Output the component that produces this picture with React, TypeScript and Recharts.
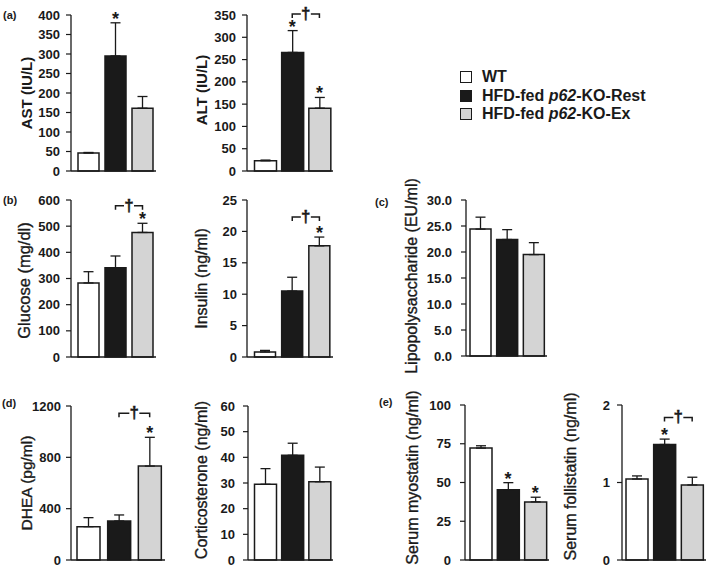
import React from 'react';
import { BarChart, Bar, XAxis, YAxis, Cell, ErrorBar, ReferenceDot, ReferenceLine } from 'recharts';

const groups = ['WT', 'HFD-fed p62-KO-Rest', 'HFD-fed p62-KO-Ex'];
const groupFills = ['#ffffff', '#1a1a1a', '#d4d4d4'];

// (a) liver enzymes
const astMean = [46, 295, 161];
const astSem = [1.5, 85, 30];
const astTicks = [0, 50, 100, 150, 200, 250, 300, 350, 400];
const astStars = [false, true, false];

const altMean = [23, 266, 141];
const altSem = [1.5, 49, 24];
const altTicks = [0, 50, 100, 150, 200, 250, 300, 350];
const altStars = [false, true, true];
const altDagger = 352;

// (b) glucose / insulin
const glucoseMean = [283, 341, 476];
const glucoseSem = [43, 45, 35];
const glucoseTicks = [0, 100, 200, 300, 400, 500, 600];
const glucoseStars = [false, false, true];
const glucoseDagger = 578;

const insulinMean = [0.8, 10.5, 17.7];
const insulinSem = [0.25, 2.2, 1.4];
const insulinTicks = [0, 5, 10, 15, 20, 25];
const insulinStars = [false, false, true];
const insulinDagger = 22.3;

// (c) LPS
const lpsMean = [24.4, 22.4, 19.5];
const lpsSem = [2.3, 1.9, 2.3];
const lpsTicks = [0, 5, 10, 15, 20, 25, 30];
const lpsStars = [false, false, false];

// (d) DHEA / corticosterone
const dheaMean = [260, 304, 732];
const dheaSem = [70, 47, 224];
const dheaTicks = [0, 400, 800, 1200];
const dheaStars = [false, false, true];
const dheaDagger = 1143;

const corticoMean = [29.5, 40.8, 30.5];
const corticoSem = [6.1, 4.7, 5.7];
const corticoTicks = [0, 10, 20, 30, 40, 50, 60];
const corticoStars = [false, false, false];

// (e) myostatin / follistatin
const myostatinMean = [72.2, 45.4, 37.5];
const myostatinSem = [1.5, 4.5, 3];
const myostatinTicks = [0, 25, 50, 75, 100];
const myostatinStars = [false, true, true];

const follistatinMean = [1.045, 1.49, 0.968];
const follistatinSem = [0.04, 0.07, 0.1];
const follistatinTicks = [0, 1, 2];
const follistatinStars = [false, true, false];
const follistatinDagger = 1.84;

const INK = '#1a1a1a';
const FONT = "'Liberation Sans', Arial, sans-serif";
const YW = 72;
const MT = 24;
const XH = 10;
const MB = 20;
const MR = 3;

type PanelSpec = {
  mean: number[];
  sem: number[];
  ticks: number[];
  stars: boolean[];
  dagger?: number;
  decimals?: number;
  title: string;
  titleBold?: boolean;
  titleSize: number;
  titleX: number;
  titleDy: number;
  axisX: number;
  plotTop: number;
  plotBottom: number;
  plotRight: number;
  padLeft: number;
  barSize: number;
  tickGap: number;
};

const starShape = (p: any) => (
  <text x={p.cx} y={p.cy + 2} textAnchor="middle" fontSize={18} fontWeight="bold" fill={INK} fontFamily={FONT}>
    *
  </text>
);

const bracketShape = (p: any) => {
  const { x1, x2, y1 } = p;
  const mid = (x1 + x2) / 2;
  return (
    <g>
      <path
        d={`M${x1},${y1 + 4}V${y1}H${mid - 5}M${mid + 5},${y1}H${x2}V${y1 + 4}`}
        stroke={INK}
        strokeWidth={1.5}
        fill="none"
      />
      <text
        x={mid}
        y={y1 + 5}
        textAnchor="middle"
        fontSize={17}
        fontWeight="bold"
        fill={INK}
        stroke={INK}
        strokeWidth={0.4}
        fontFamily={FONT}
      >
        †
      </text>
    </g>
  );
};

function Panel({ s }: { s: PanelSpec }) {
  const data = groups.map((g, i) => ({ name: g, mean: s.mean[i], err: [0, s.sem[i]] }));
  const plotH = s.plotBottom - s.plotTop;
  const width = YW + (s.plotRight - s.axisX) + MR;
  const height = MT + plotH + XH + MB;
  const max = s.ticks[s.ticks.length - 1];
  const tx = YW - (s.axisX - s.titleX);
  const ty = MT + plotH / 2 + s.titleDy;

  return (
    <div style={{ position: 'absolute', left: s.axisX - YW, top: s.plotTop - MT }}>
      <BarChart width={width} height={height} data={data} margin={{ top: MT, right: MR, bottom: MB, left: 0 }}>
        <XAxis
          dataKey="name"
          tick={false}
          tickLine={false}
          height={XH}
          padding={{ left: s.padLeft, right: 0 }}
          axisLine={{ stroke: INK, strokeWidth: 1.3 }}
        />
        <YAxis
          width={YW}
          type="number"
          domain={[0, max]}
          ticks={s.ticks}
          interval={0}
          tickSize={5}
          tickMargin={s.tickGap - 5}
          axisLine={{ stroke: INK, strokeWidth: 1.3 }}
          tickLine={{ stroke: INK, strokeWidth: 1.2 }}
          tickFormatter={(v: number) => (s.decimals ? v.toFixed(s.decimals) : String(v))}
          tick={{ fontSize: 13, fontWeight: 'bold', fill: INK, fontFamily: FONT }}
          label={{
            content: () => (
              <text
                x={tx}
                y={ty}
                transform={`rotate(-90 ${tx} ${ty})`}
                textAnchor="middle"
                dominantBaseline="central"
                fontSize={s.titleSize}
                fontWeight={s.titleBold ? 'bold' : 'normal'}
                fill={INK}
                stroke={s.titleBold ? 'none' : INK}
                strokeWidth={0.35}
                fontFamily={FONT}
              >
                {s.title}
              </text>
            ),
          }}
        />
        <Bar dataKey="mean" barSize={s.barSize} stroke={INK} strokeWidth={1.5} isAnimationActive={false}>
          {data.map((d, i) => (
            <Cell key={d.name} fill={groupFills[i]} />
          ))}
          <ErrorBar dataKey="err" width={5} stroke={INK} strokeWidth={1.3} direction="y" isAnimationActive={false} />
        </Bar>
        {s.stars.map((on, i) =>
          on ? (
            <ReferenceDot
              key={`star-${i}`}
              x={groups[i]}
              y={s.mean[i] + s.sem[i]}
              r={0}
              ifOverflow="visible"
              shape={starShape}
            />
          ) : null,
        )}
        {s.dagger !== undefined && (
          <ReferenceLine
            segment={[
              { x: groups[1], y: s.dagger },
              { x: groups[2], y: s.dagger },
            ]}
            ifOverflow="visible"
            shape={bracketShape}
          />
        )}
      </BarChart>
    </div>
  );
}

const panels: PanelSpec[] = [
  {
    mean: astMean, sem: astSem, ticks: astTicks, stars: astStars,
    title: 'AST (IU/L)', titleBold: true, titleSize: 15, titleX: 26, titleDy: 0,
    axisX: 71, plotTop: 15, plotBottom: 171, plotRight: 156, padLeft: 4, barSize: 21, tickGap: 11,
  },
  {
    mean: altMean, sem: altSem, ticks: altTicks, stars: altStars, dagger: altDagger,
    title: 'ALT (IU/L)', titleBold: true, titleSize: 15, titleX: 201, titleDy: -3,
    axisX: 247, plotTop: 15, plotBottom: 171, plotRight: 333, padLeft: 4.5, barSize: 22, tickGap: 11,
  },
  {
    mean: glucoseMean, sem: glucoseSem, ticks: glucoseTicks, stars: glucoseStars, dagger: glucoseDagger,
    title: 'Glucose (mg/dl)', titleSize: 16.5, titleX: 24, titleDy: 2,
    axisX: 71, plotTop: 200, plotBottom: 357, plotRight: 156, padLeft: 4, barSize: 21, tickGap: 11,
  },
  {
    mean: insulinMean, sem: insulinSem, ticks: insulinTicks, stars: insulinStars, dagger: insulinDagger,
    title: 'Insulin (ng/ml)', titleSize: 16, titleX: 201, titleDy: 0,
    axisX: 247, plotTop: 200, plotBottom: 357, plotRight: 333, padLeft: 4.5, barSize: 21, tickGap: 10,
  },
  {
    mean: lpsMean, sem: lpsSem, ticks: lpsTicks, stars: lpsStars, decimals: 1,
    title: 'Lipopolysaccharide (EU/ml)', titleSize: 16, titleX: 411, titleDy: -2,
    axisX: 466, plotTop: 200, plotBottom: 356, plotRight: 547, padLeft: 1, barSize: 21, tickGap: 14,
  },
  {
    mean: dheaMean, sem: dheaSem, ticks: dheaTicks, stars: dheaStars, dagger: dheaDagger,
    title: 'DHEA (pg/ml)', titleSize: 15.5, titleX: 26, titleDy: 0,
    axisX: 71, plotTop: 406, plotBottom: 560, plotRight: 165, padLeft: 2, barSize: 23, tickGap: 10,
  },
  {
    mean: corticoMean, sem: corticoSem, ticks: corticoTicks, stars: corticoStars,
    title: 'Corticosterone (ng/ml)', titleSize: 16, titleX: 201, titleDy: -3,
    axisX: 248, plotTop: 406, plotBottom: 560, plotRight: 333, padLeft: 3.5, barSize: 22, tickGap: 13,
  },
  {
    mean: myostatinMean, sem: myostatinSem, ticks: myostatinTicks, stars: myostatinStars,
    title: 'Serum myostatin (ng/ml)', titleSize: 16, titleX: 412, titleDy: -5,
    axisX: 465, plotTop: 405, plotBottom: 560, plotRight: 549, padLeft: 2, barSize: 22, tickGap: 14,
  },
  {
    mean: follistatinMean, sem: follistatinSem, ticks: follistatinTicks, stars: follistatinStars, dagger: follistatinDagger,
    title: 'Serum follistatin (ng/ml)', titleSize: 16, titleX: 570, titleDy: -6,
    axisX: 622, plotTop: 405, plotBottom: 560, plotRight: 706, padLeft: 1, barSize: 22, tickGap: 12,
  },
];

const panelLetters = [
  { t: '(a)', x: 3, y: 15 },
  { t: '(b)', x: 3, y: 200 },
  { t: '(c)', x: 375, y: 202 },
  { t: '(d)', x: 2, y: 403 },
  { t: '(e)', x: 379, y: 402 },
];

const legendRows = [
  { pre: 'WT', it: '', post: '' },
  { pre: 'HFD-fed ', it: 'p62', post: '-KO-Rest' },
  { pre: 'HFD-fed ', it: 'p62', post: '-KO-Ex' },
];
const legendY = [77, 95.5, 114];

export default function App() {
  return (
    <div
      style={{
        position: 'absolute',
        left: 0,
        top: 0,
        width: 709,
        height: 568,
        background: '#fff',
        fontFamily: FONT,
        color: INK,
        overflow: 'hidden',
      }}
    >
      {panels.map((p) => (
        <Panel key={p.title} s={p} />
      ))}
      {panelLetters.map((l) => (
        <div
          key={l.t}
          style={{ position: 'absolute', left: l.x, top: l.y - 7, fontSize: 11, fontWeight: 'bold', lineHeight: '14px' }}
        >
          {l.t}
        </div>
      ))}
      {legendRows.map((r, i) => (
        <div
          key={i}
          style={{
            position: 'absolute',
            left: 460,
            top: legendY[i] - 10,
            height: 20,
            display: 'flex',
            alignItems: 'center',
            whiteSpace: 'nowrap',
          }}
        >
          <div
            style={{
              width: 10,
              height: 10,
              border: `1.5px solid ${INK}`,
              background: groupFills[i],
              marginRight: 10,
            }}
          />
          <span style={{ fontSize: 16, fontWeight: 'bold' }}>
            {r.pre}
            {r.it && <i>{r.it}</i>}
            {r.post}
          </span>
        </div>
      ))}
    </div>
  );
}
